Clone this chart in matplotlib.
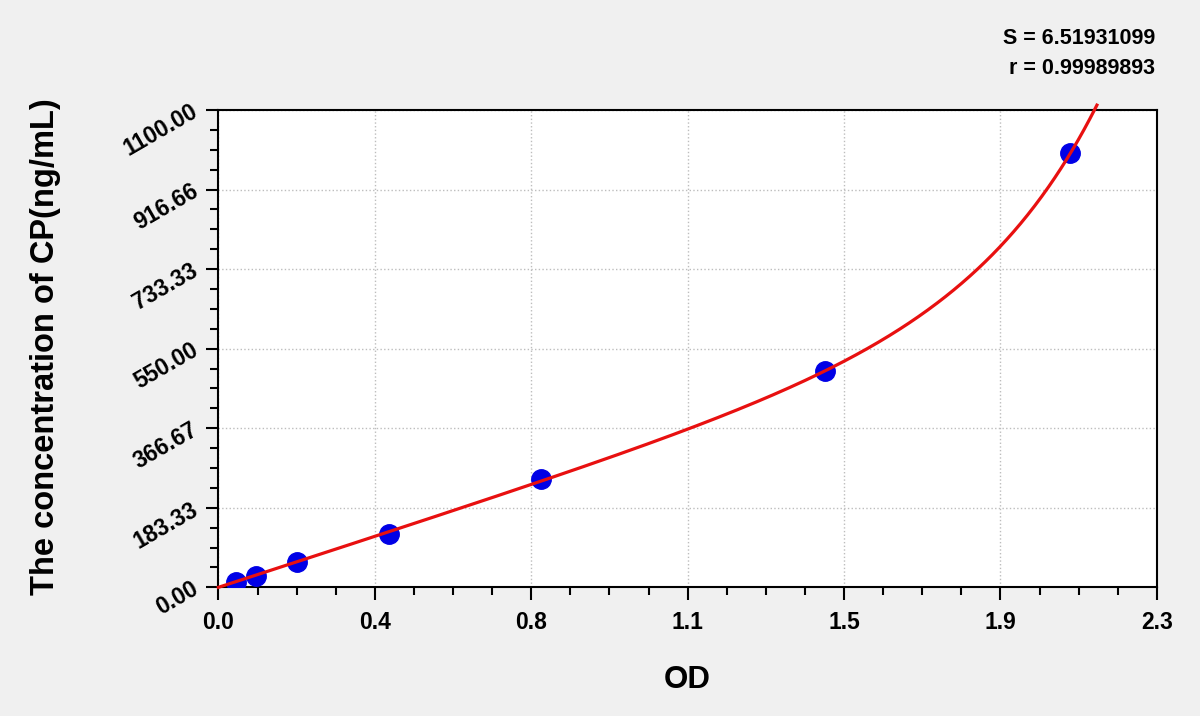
"""CP standard curve - OD vs concentration"""
import matplotlib
matplotlib.use('Agg')
import matplotlib.pyplot as plt
import numpy as np

plt.rcParams['font.family'] = ['Liberation Sans', 'DejaVu Sans']
plt.rcParams['font.weight'] = 'bold'

# ── data ──
od = [0.042, 0.093, 0.193, 0.419, 0.791, 1.486, 2.088]
conc = [13, 26, 58, 123, 249, 498, 1000]

x_ticks = [0, 2.3 / 6, 2 * 2.3 / 6, 3 * 2.3 / 6, 4 * 2.3 / 6, 5 * 2.3 / 6, 2.3]
x_tick_labels = ['0.0', '0.4', '0.8', '1.1', '1.5', '1.9', '2.3']
y_ticks = [0, 1100 / 6, 2 * 1100 / 6, 3 * 1100 / 6, 4 * 1100 / 6, 5 * 1100 / 6, 1100]
y_tick_labels = ['0.00', '183.33', '366.67', '550.00', '733.33', '916.66', '1100.00']

stat_s = '6.51931099'
stat_r = '0.99989893'

# ── curve fit: y = a*x + c*(exp(k*x) - 1), grid over k ──
xd = np.array(od)
yd = np.array(conc)
best = None
for k in np.linspace(0.5, 6.0, 551):
    A = np.column_stack([xd, np.exp(k * xd) - 1])
    coef, *_ = np.linalg.lstsq(A, yd, rcond=None)
    err = np.sum((A @ coef - yd) ** 2)
    if best is None or err < best[0]:
        best = (err, k, coef)
_, k, (a, c) = best
xc = np.linspace(0, 2.3, 800)
yc = a * xc + c * (np.exp(k * xc) - 1)
keep = yc <= 1112
xc, yc = xc[keep], yc[keep]

fig = plt.figure(figsize=(12, 7.16), dpi=100, facecolor='#f0f0f0')
ax = fig.add_axes([0.182, 0.1797, 0.782, 0.6667])
ax.set_facecolor('white')

ax.plot(od, conc, 'o', color='#0000e6', markersize=14, zorder=3)
ax.plot(xc, yc, '-', color='#e81010', linewidth=2.3, zorder=4, clip_on=False)

ax.set_xlim(0, 2.3)
ax.set_ylim(0, 1100)
ax.set_xticks(x_ticks)
ax.set_xticklabels(x_tick_labels, fontsize=16.5, fontweight='bold')
ax.set_yticks(y_ticks)
ax.set_yticklabels(y_tick_labels, fontsize=16.5, fontweight='bold', rotation=30,
                   ha='right', va='center', rotation_mode='anchor')
ax.set_xticks(np.arange(0, 2.3 + 1e-9, 2.3 / 24), minor=True)
ax.set_yticks(np.arange(0, 1100 + 1e-9, 1100 / 24), minor=True)

ax.tick_params(axis='both', which='major', direction='out', length=9, width=1.5)
ax.tick_params(axis='both', which='minor', direction='out', length=6, width=1.5)
ax.tick_params(axis='x', which='major', pad=8)
ax.tick_params(axis='y', which='major', pad=7)
ax.tick_params(top=False, right=False, which='both')

for s in ax.spines.values():
    s.set_linewidth(1.5)
    s.set_color('black')

ax.grid(True, which='major', linestyle=':', color='#bdbdbd', linewidth=1)
ax.set_axisbelow(True)

fig.text(687 / 1200, 1 - 680 / 716, 'OD', ha='center', va='center',
         fontsize=22.5, fontweight='bold')
fig.text(46 / 1200, 1 - 347 / 716, 'The concentration of CP(ng/mL)', ha='center',
         va='center', rotation=90, fontsize=23.5, fontweight='bold')

fig.text(1155 / 1200, 1 - 39 / 716, f'S = {stat_s}', ha='right', va='center',
         fontsize=15.5, fontweight='bold')
fig.text(1155 / 1200, 1 - 69 / 716, f'r = {stat_r}', ha='right', va='center',
         fontsize=15.5, fontweight='bold')

fig.savefig('out.png', dpi=100, facecolor=fig.get_facecolor())
